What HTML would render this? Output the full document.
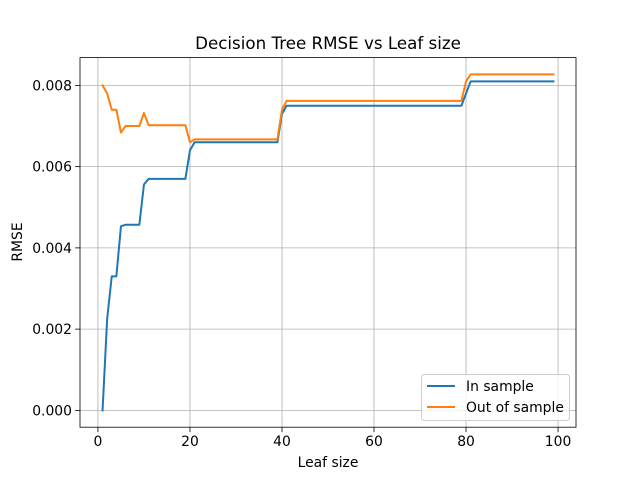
<!DOCTYPE html>
<html><head><meta charset="utf-8"><style>
body{margin:0;background:#fff;}
svg{display:block;font-family:"DejaVu Sans","Liberation Sans",sans-serif;}
</style></head><body>
<svg id="chart" width="640" height="480"></svg>
<script>
const xValues = [1,2,3,4,5,6,7,8,9,10,11,12,13,14,15,16,17,18,19,20,21,22,23,24,25,26,27,28,29,30,31,32,33,34,35,36,37,38,39,40,41,42,43,44,45,46,47,48,49,50,51,52,53,54,55,56,57,58,59,60,61,62,63,64,65,66,67,68,69,70,71,72,73,74,75,76,77,78,79,80,81,82,83,84,85,86,87,88,89,90,91,92,93,94,95,96,97,98,99];
const inSample = [0,0.00225,0.0033,0.0033,0.00453,0.00457,0.00457,0.00457,0.00457,0.00556,
0.0057,0.0057,0.0057,0.0057,0.0057,0.0057,0.0057,0.0057,0.0057,0.0064,
0.0066,0.0066,0.0066,0.0066,0.0066,0.0066,0.0066,0.0066,0.0066,0.0066,0.0066,0.0066,0.0066,0.0066,0.0066,0.0066,0.0066,0.0066,0.0066,0.0073,
0.0075,0.0075,0.0075,0.0075,0.0075,0.0075,0.0075,0.0075,0.0075,0.0075,0.0075,0.0075,0.0075,0.0075,0.0075,0.0075,0.0075,0.0075,0.0075,0.0075,
0.0075,0.0075,0.0075,0.0075,0.0075,0.0075,0.0075,0.0075,0.0075,0.0075,0.0075,0.0075,0.0075,0.0075,0.0075,0.0075,0.0075,0.0075,0.0075,0.0078,
0.0081,0.0081,0.0081,0.0081,0.0081,0.0081,0.0081,0.0081,0.0081,0.0081,0.0081,0.0081,0.0081,0.0081,0.0081,0.0081,0.0081,0.0081,0.0081];
const outSample = [0.008,0.0078,0.0074,0.0074,0.00684,0.007,0.007,0.007,0.007,0.00732,
0.00702,0.00702,0.00702,0.00702,0.00702,0.00702,0.00702,0.00702,0.00702,0.0066,
0.00667,0.00667,0.00667,0.00667,0.00667,0.00667,0.00667,0.00667,0.00667,0.00667,0.00667,0.00667,0.00667,0.00667,0.00667,0.00667,0.00667,0.00667,0.00667,0.0074,
0.00762,0.00762,0.00762,0.00762,0.00762,0.00762,0.00762,0.00762,0.00762,0.00762,0.00762,0.00762,0.00762,0.00762,0.00762,0.00762,0.00762,0.00762,0.00762,0.00762,
0.00762,0.00762,0.00762,0.00762,0.00762,0.00762,0.00762,0.00762,0.00762,0.00762,0.00762,0.00762,0.00762,0.00762,0.00762,0.00762,0.00762,0.00762,0.00762,0.0081,
0.00827,0.00827,0.00827,0.00827,0.00827,0.00827,0.00827,0.00827,0.00827,0.00827,0.00827,0.00827,0.00827,0.00827,0.00827,0.00827,0.00827,0.00827,0.00827];
const xTicks = [0,20,40,60,80,100];
const yTicks = [0,0.002,0.004,0.006,0.008];
const yTickLabels = ["0.000","0.002","0.004","0.006","0.008"];

const svg = document.getElementById('chart');
const NS = 'http://www.w3.org/2000/svg';
const L=80,R=576,T=57.6,B=427.2;
const xMin=-3.9,xMax=103.9,yMin=-0.000414,yMax=0.008684;
const X=v=>L+(v-xMin)/(xMax-xMin)*(R-L);
const Y=v=>B-(v-yMin)/(yMax-yMin)*(B-T);
function mk(tag,attrs,parent){const e=document.createElementNS(NS,tag);for(const k in attrs)e.setAttribute(k,attrs[k]);(parent||svg).appendChild(e);return e;}

xTicks.forEach(t=>{
  const g=mk('line',{x1:X(t),x2:X(t),y1:T,y2:B,stroke:'#b0b0b0','stroke-width':0.8});
  
  
  const tk=mk('line',{x1:X(t),x2:X(t),y1:B,y2:B+4.9,stroke:'#000','stroke-width':0.8});
  
  
  const tx=mk('text',{x:X(t),y:B+19,'text-anchor':'middle','font-size':13.9});
  tx.textContent=t;
  
  
});
yTicks.forEach((t,i)=>{
  const g=mk('line',{x1:L,x2:R,y1:Y(t),y2:Y(t),stroke:'#b0b0b0','stroke-width':0.8});
  
  
  const tk=mk('line',{x1:L-4.9,x2:L,y1:Y(t),y2:Y(t),stroke:'#000','stroke-width':0.8});
  
  
  const tx=mk('text',{x:L-8,y:Y(t)+5,'text-anchor':'end','font-size':13.9});
  tx.textContent=yTickLabels[i];
  
  
});
function line(vals,color,name){
  const d=vals.map((v,i)=>(i?'L':'M')+X(xValues[i]).toFixed(2)+','+Y(v).toFixed(2)).join('');
  const p=mk('path',{d:d,fill:'none',stroke:color,'stroke-width':2,'stroke-linejoin':'round','stroke-linecap':'square'});
  
  
}
line(inSample,'#1f77b4','in-sample-line');
line(outSample,'#ff7f0e','out-of-sample-line');
</script>
<svg width="640" height="480" style="position:absolute;left:0;top:0">
  <rect x="80" y="57.6" width="496" height="369.6" fill="none" stroke="#000" stroke-width="0.8"/>
  <text x="328" y="49" text-anchor="middle" font-size="16.7" font-family="DejaVu Sans, Liberation Sans, sans-serif">Decision Tree RMSE vs Leaf size</text>
  <text x="328" y="467" text-anchor="middle" font-size="13.9" font-family="DejaVu Sans, Liberation Sans, sans-serif">Leaf size</text>
  <text transform="translate(22,242) rotate(-90)" text-anchor="middle" font-size="13.9" font-family="DejaVu Sans, Liberation Sans, sans-serif">RMSE</text>
  <g>
    <rect x="421.5" y="374.5" width="148" height="46" rx="3" fill="#fff" fill-opacity="0.8" stroke="#ccc"/>
    <line x1="427" y1="386" x2="455" y2="386" stroke="#1f77b4" stroke-width="2"/>
    <text x="466" y="391" font-size="13.9" font-family="DejaVu Sans, Liberation Sans, sans-serif">In sample</text>
    <line x1="427" y1="407" x2="455" y2="407" stroke="#ff7f0e" stroke-width="2"/>
    <text x="466" y="412" font-size="13.9" font-family="DejaVu Sans, Liberation Sans, sans-serif">Out of sample</text>
  </g>
</svg>
</body></html>
